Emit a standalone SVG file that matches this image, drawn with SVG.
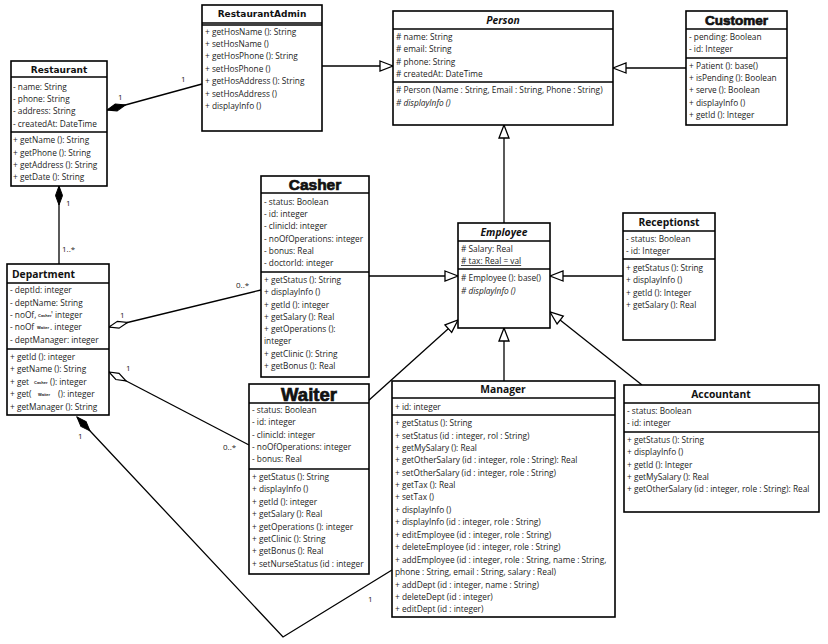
<svg xmlns="http://www.w3.org/2000/svg" width="828" height="644" viewBox="0 0 828 644">
<style>
.bg{fill:#fff}
.box{fill:#fff;stroke:#000;stroke-width:1.6}
.sep{stroke:#000;stroke-width:1.3}
.t{font-family:"Open Sans","Noto Sans",sans-serif;font-size:8.3px;fill:#222}
.it{font-style:italic}
.tiny{font-family:"Liberation Sans",sans-serif;font-size:4px;font-weight:bold;fill:#222}
.hv{font-family:"DejaVu Sans",sans-serif;font-size:9px;font-weight:bold;fill:#111}
.hb{font-family:"Open Sans","Noto Sans",sans-serif;font-size:10.3px;font-weight:bold;fill:#111}
.hbi{font-family:"Open Sans","Noto Sans",sans-serif;font-size:10.3px;font-weight:bold;font-style:italic;fill:#111}
.hk{font-family:"Liberation Sans",sans-serif;font-weight:bold;fill:#111;stroke:#111;stroke-width:0.7}
.conn path{fill:none;stroke:#000;stroke-width:1.3}
.lbl{font-family:"Open Sans","Noto Sans",sans-serif;font-size:8px;fill:#222}
</style>
<defs>
<marker id="gen" markerWidth="15" markerHeight="13" refX="14" refY="6.5" orient="auto" markerUnits="userSpaceOnUse"><path d="M1,1.5 L14,6.5 L1,11.5 Z" fill="#fff" stroke="#000" stroke-width="1.3"/></marker>
<marker id="comp" markerWidth="21" markerHeight="10" refX="20" refY="5" orient="auto" markerUnits="userSpaceOnUse"><path d="M1,5 L10.5,1.5 L20,5 L10.5,8.5 Z" fill="#000" stroke="#000" stroke-width="1"/></marker>
<marker id="agg" markerWidth="21" markerHeight="10" refX="20" refY="5" orient="auto" markerUnits="userSpaceOnUse"><path d="M1,5 L10.5,1.5 L20,5 L10.5,8.5 Z" fill="#fff" stroke="#000" stroke-width="1.2"/></marker>
</defs>
<rect class="bg" width="828" height="644"/>

<g class="conn">
<path d="M202,84 L107,110" marker-end="url(#comp)"/>
<path d="M322,66 L393,66" marker-end="url(#gen)"/>
<path d="M686,68 L613,68" marker-end="url(#gen)"/>
<path d="M504,223 L504,125" marker-end="url(#gen)"/>
<path d="M369,276 L458,276" marker-end="url(#gen)"/>
<path d="M623,276 L550,276" marker-end="url(#gen)"/>
<path d="M368,401 L458,320" marker-end="url(#gen)"/>
<path d="M504,381 L504,328" marker-end="url(#gen)"/>
<path d="M642,385 L550,312" marker-end="url(#gen)"/>
<path d="M59,264 L59,186" marker-end="url(#comp)"/>
<path d="M261,290 L109,327" marker-end="url(#agg)"/>
<path d="M249,445 L109,372" marker-end="url(#agg)"/>
<path d="M392,570 L283,637 L77,417" marker-end="url(#comp)"/>
<text class="lbl" x="118" y="100">1</text>
<text class="lbl" x="181" y="82">1</text>
<text class="lbl" x="66" y="206">1</text>
<text class="lbl" x="62" y="252">1..*</text>
<text class="lbl" x="120" y="318">1</text>
<text class="lbl" x="236" y="288">0..*</text>
<text class="lbl" x="126" y="371">1</text>
<text class="lbl" x="223" y="450">0..*</text>
<text class="lbl" x="78" y="439">1</text>
<text class="lbl" x="368" y="602">1</text>
</g>

<g id="Restaurant">
<rect class="box" x="11" y="61" width="96" height="125"/>
<line class="sep" x1="11" y1="77" x2="107" y2="77"/>
<line class="sep" x1="11" y1="132" x2="107" y2="132"/>
<text class="hv" x="59" y="73" text-anchor="middle">Restaurant</text>
<text class="t" x="13" y="90">- name: String</text>
<text class="t" x="13" y="102">- phone: String</text>
<text class="t" x="13" y="114">- address: String</text>
<text class="t" x="13" y="127">- createdAt: DateTime</text>
<text class="t" x="13" y="143">+ getName (): String</text>
<text class="t" x="13" y="156">+ getPhone (): String</text>
<text class="t" x="13" y="168">+ getAddress (): String</text>
<text class="t" x="13" y="180">+ getDate (): String</text>
</g>

<g id="RestaurantAdmin">
<rect class="box" x="202" y="5" width="120" height="126"/>
<line class="sep" x1="202" y1="23" x2="322" y2="23"/>
<line class="sep" x1="202" y1="25" x2="322" y2="25"/>
<text class="hv" x="262" y="17" text-anchor="middle">RestaurantAdmin</text>
<text class="t" x="205" y="35">+ getHosName (): String</text>
<text class="t" x="205" y="47">+ setHosName ()</text>
<text class="t" x="205" y="59">+ getHosPhone (): String</text>
<text class="t" x="205" y="72">+ setHosPhone ()</text>
<text class="t" x="205" y="84">+ getHosAddress (): String</text>
<text class="t" x="205" y="97">+ setHosAddress ()</text>
<text class="t" x="205" y="109">+ displayInfo ()</text>
</g>

<g id="Person">
<rect class="box" x="393" y="11" width="220" height="114"/>
<line class="sep" x1="393" y1="29" x2="613" y2="29"/>
<line class="sep" x1="393" y1="82" x2="613" y2="82"/>
<text class="hbi" x="503" y="24" text-anchor="middle">Person</text>
<text class="t" x="396" y="40"># name: String</text>
<text class="t" x="396" y="52"># email: String</text>
<text class="t" x="396" y="65"># phone: String</text>
<text class="t" x="396" y="77"># createdAt: DateTime</text>
<text class="t" x="396" y="93"># Person (Name : String, Email : String, Phone : String)</text>
<text class="t it" x="396" y="106"># displayInfo ()</text>
</g>

<g id="Customer">
<rect class="box" x="686" y="11" width="101" height="114"/>
<line class="sep" x1="686" y1="29" x2="787" y2="29"/>
<line class="sep" x1="686" y1="58" x2="787" y2="58"/>
<text class="hk" x="736.5" y="25" font-size="13.5" text-anchor="middle">Customer</text>
<text class="t" x="689" y="40">- pending: Boolean</text>
<text class="t" x="689" y="52">- id: Integer</text>
<text class="t" x="689" y="69">+ Patient (): base()</text>
<text class="t" x="689" y="81">+ isPending (): Boolean</text>
<text class="t" x="689" y="93">+ serve (): Boolean</text>
<text class="t" x="689" y="106">+ displayInfo ()</text>
<text class="t" x="689" y="118">+ getId (): Integer</text>
</g>

<g id="Employee">
<rect class="box" x="458" y="223" width="92" height="105"/>
<line class="sep" x1="458" y1="241" x2="550" y2="241"/>
<line class="sep" x1="458" y1="269" x2="550" y2="269"/>
<text class="hbi" x="504" y="236" text-anchor="middle">Employee</text>
<text class="t" x="461" y="252"># Salary: Real</text>
<text class="t" x="461" y="264" text-decoration="underline"># tax: Real = val</text>
<text class="t" x="461" y="281"># Employee (): base()</text>
<text class="t it" x="461" y="294"># displayInfo ()</text>
</g>

<g id="Receptionst">
<rect class="box" x="623" y="213" width="92" height="127"/>
<line class="sep" x1="623" y1="231" x2="715" y2="231"/>
<line class="sep" x1="623" y1="259" x2="715" y2="259"/>
<text class="hb" x="669" y="226" text-anchor="middle">Receptionst</text>
<text class="t" x="626" y="242">- status: Boolean</text>
<text class="t" x="626" y="254">- id: Integer</text>
<text class="t" x="626" y="271">+ getStatus (): String</text>
<text class="t" x="626" y="283">+ displayInfo ()</text>
<text class="t" x="626" y="296">+ getId (): Integer</text>
<text class="t" x="626" y="308">+ getSalary (): Real</text>
</g>

<g id="Casher">
<rect class="box" x="261" y="176" width="108" height="201"/>
<line class="sep" x1="261" y1="193" x2="369" y2="193"/>
<line class="sep" x1="261" y1="272" x2="369" y2="272"/>
<text class="hk" x="315" y="190" font-size="15.5" text-anchor="middle">Casher</text>
<text class="t" x="264" y="205">- status: Boolean</text>
<text class="t" x="264" y="217">- id: integer</text>
<text class="t" x="264" y="229">- clinicId: integer</text>
<text class="t" x="264" y="242">- noOfOperations: integer</text>
<text class="t" x="264" y="254">- bonus: Real</text>
<text class="t" x="264" y="266">- doctorId: integer</text>
<text class="t" x="264" y="283">+ getStatus (): String</text>
<text class="t" x="264" y="295">+ displayInfo ()</text>
<text class="t" x="264" y="308">+ getId (): integer</text>
<text class="t" x="264" y="320">+ getSalary (): Real</text>
<text class="t" x="264" y="332">+ getOperations ():</text>
<text class="t" x="264" y="344">integer</text>
<text class="t" x="264" y="357">+ getClinic (): String</text>
<text class="t" x="264" y="369">+ getBonus (): Real</text>
</g>

<g id="Department">
<rect class="box" x="7" y="264" width="102" height="151"/>
<line class="sep" x1="7" y1="283" x2="109" y2="283"/>
<line class="sep" x1="7" y1="349" x2="109" y2="349"/>
<text class="hb" x="12" y="278" font-size="10.5">Department</text>
<text class="t" x="10" y="293">- deptId: integer</text>
<text class="t" x="10" y="306">- deptName: String</text>
<text class="t" x="10" y="318">- noOf,</text>
<text class="tiny" x="38" y="317">Casher</text>
<text class="t" x="51" y="318">' integer</text>
<text class="t" x="10" y="330">- noOf</text>
<text class="tiny" x="37" y="329">Waiter</text>
<text class="t" x="50" y="330">. integer</text>
<text class="t" x="10" y="343">- deptManager: integer</text>
<text class="t" x="10" y="360">+ getId (): integer</text>
<text class="t" x="10" y="372">+ getName (): String</text>
<text class="t" x="10" y="385">+ get</text>
<text class="tiny" x="34" y="384">Casher</text>
<text class="t" x="50" y="385">(): integer</text>
<text class="t" x="10" y="397">+ get(</text>
<text class="tiny" x="38" y="396">Waiter</text>
<text class="t" x="58" y="397">(): integer</text>
<text class="t" x="10" y="410">+ getManager (): String</text>
</g>

<g id="Waiter">
<rect class="box" x="249" y="384" width="120" height="190"/>
<line class="sep" x1="249" y1="403" x2="369" y2="403"/>
<line class="sep" x1="249" y1="469" x2="369" y2="469"/>
<text class="hk" x="309" y="401" font-size="18.5" text-anchor="middle">Waiter</text>
<text class="t" x="252" y="413">- status: Boolean</text>
<text class="t" x="252" y="425">- id: integer</text>
<text class="t" x="252" y="438">- clinicId: integer</text>
<text class="t" x="252" y="450">- noOfOperations: integer</text>
<text class="t" x="252" y="462">- bonus: Real</text>
<text class="t" x="252" y="480">+ getStatus (): String</text>
<text class="t" x="252" y="492">+ displayInfo ()</text>
<text class="t" x="252" y="505">+ getId (): integer</text>
<text class="t" x="252" y="517">+ getSalary (): Real</text>
<text class="t" x="252" y="530">+ getOperations (): integer</text>
<text class="t" x="252" y="542">+ getClinic (): String</text>
<text class="t" x="252" y="554">+ getBonus (): Real</text>
<text class="t" x="252" y="567">+ setNurseStatus (id : integer</text>
</g>

<g id="Manager">
<rect class="box" x="392" y="381" width="223" height="236"/>
<line class="sep" x1="392" y1="398" x2="615" y2="398"/>
<line class="sep" x1="392" y1="415" x2="615" y2="415"/>
<text class="hb" x="503" y="393" text-anchor="middle">Manager</text>
<text class="t" x="395" y="410">+ id: integer</text>
<text class="t" x="395" y="426">+ getStatus (): String</text>
<text class="t" x="395" y="439">+ setStatus (id : integer, rol : String)</text>
<text class="t" x="395" y="451">+ getMySalary (): Real</text>
<text class="t" x="395" y="463">+ getOtherSalary (id : integer, role : String): Real</text>
<text class="t" x="395" y="476">+ setOtherSalary (id : integer, role : String)</text>
<text class="t" x="395" y="488">+ getTax (): Real</text>
<text class="t" x="395" y="500">+ setTax ()</text>
<text class="t" x="395" y="513">+ displayInfo ()</text>
<text class="t" x="395" y="525">+ displayInfo (id : integer, role : String)</text>
<text class="t" x="395" y="538">+ editEmployee (id : integer, role : String)</text>
<text class="t" x="395" y="550">+ deleteEmployee (id : integer, role : String)</text>
<text class="t" x="395" y="563">+ addEmployee (id : integer, role : String, name : String,</text>
<text class="t" x="395" y="575">phone : String, email : String, salary : Real)</text>
<text class="t" x="395" y="588">+ addDept (id : integer, name : String)</text>
<text class="t" x="395" y="600">+ deleteDept (id : integer)</text>
<text class="t" x="395" y="612">+ editDept (id : integer)</text>
</g>

<g id="Accountant">
<rect class="box" x="624" y="385" width="195" height="127"/>
<line class="sep" x1="624" y1="403" x2="819" y2="403"/>
<line class="sep" x1="624" y1="432" x2="819" y2="432"/>
<text class="hb" x="721" y="398" text-anchor="middle">Accountant</text>
<text class="t" x="627" y="414">- status: Boolean</text>
<text class="t" x="627" y="426">- id: integer</text>
<text class="t" x="627" y="443">+ getStatus (): String</text>
<text class="t" x="627" y="455">+ displayInfo ()</text>
<text class="t" x="627" y="468">+ getId (): Integer</text>
<text class="t" x="627" y="480">+ getMySalary (): Real</text>
<text class="t" x="627" y="492">+ getOtherSalary (id : integer, role : String): Real</text>
</g>
</svg>
